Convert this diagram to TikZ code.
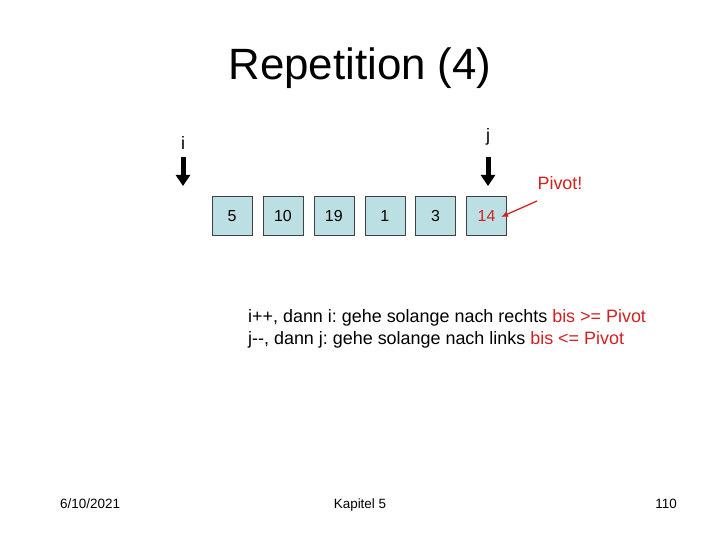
\documentclass[tikz,border=0pt]{standalone}
\usepackage{fontspec}
\setmainfont{Liberation Sans}
\usetikzlibrary{arrows.meta,positioning}
\definecolor{CellBlue}{HTML}{BCDFE3}
\definecolor{Frame}{HTML}{404040}
\definecolor{Alert}{HTML}{D42020}
\frenchspacing

\begin{document}
\begin{tikzpicture}[
  x=1bp,y=-1bp,
  node distance=0bp and 10.5bp,
  cell/.style={draw=Frame,fill=CellBlue,minimum width=40bp,minimum height=39bp,inner sep=0pt,font=\fontsize{16}{18}\selectfont},
  idx/.style={font=\fontsize{18}{20}\selectfont,inner sep=0pt},
  pointer/.style={-{Triangle[length=11bp,width=14bp]},line width=5bp,black},
  note/.style={-{Latex[length=7bp,width=6bp]},line width=1.3bp,draw=Alert},
  foot/.style={font=\fontsize{13.5}{15}\selectfont,inner sep=0pt}
]
\useasboundingbox[fill=white] (0,0) rectangle (720,540);
\node[font=\fontsize{44}{50}\selectfont] (title) at (360,68) {Repetition (4)};
% array
\node[cell] (c1) at (232,216) {5};
\node[cell,right=of c1] (c2) {10};
\node[cell,right=of c2] (c3) {19};
\node[cell,right=of c3] (c4) {1};
\node[cell,right=of c4] (c5) {3};
\node[cell,right=of c5,text=Alert] (c6) {14};
% pointers
\node[idx] (i) at (183,143) {i};
\node[idx] (j) at (488,137) {j};
\coordinate (itop) at (183,157);
\coordinate (ibot) at (183,186);
\coordinate (jtop) at (488,157);
\coordinate (jbot) at (488,186);
\draw[pointer] (itop) -- (ibot);
\draw[pointer] (jtop) -- (jbot);
\node[idx,text=Alert] (pivot) at (560,183) {Pivot!};
\coordinate (ptail) at (537,201);
\coordinate (phead) at (501,217);
\draw[note] (ptail) -- (phead);
% explanation
\node[anchor=north west,align=left,inner sep=0pt,font=\fontsize{18}{22}\selectfont] (rule) at (248,309)
  {i++, dann i: gehe solange nach rechts \textcolor{Alert}{bis >= Pivot}\\
   j-{}-, dann j: gehe solange nach links \textcolor{Alert}{bis <= Pivot}};
% footer
\node[foot,anchor=base west] (date) at (60,508) {6/10/2021};
\node[foot,anchor=base] (chap) at (360,508) {Kapitel 5};
\node[foot,anchor=base east] (page) at (677,508) {110};
\end{tikzpicture}
\end{document}
